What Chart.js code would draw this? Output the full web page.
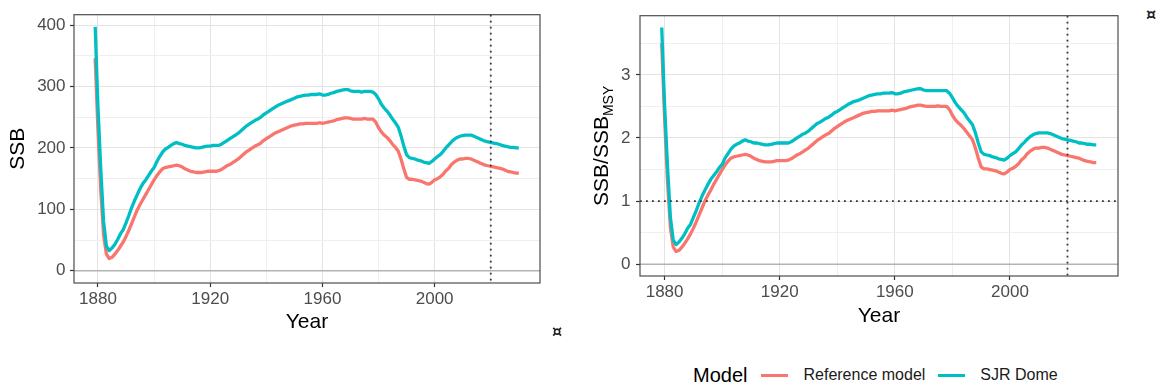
<!DOCTYPE html>
<html>
<head>
<meta charset="utf-8">
<script src="https://cdn.jsdelivr.net/npm/chart.js@4.4.1/dist/chart.umd.min.js"></script>
<style>
  body { margin: 0; background: #fff; width: 1159px; height: 387px; position: relative; overflow: hidden;
         font-family: "Liberation Sans", Arial, sans-serif; }
  canvas { position: absolute; top: 0; }
  #ssbChart { left: 0; }
  #ratioChart { left: 580px; }
  .pilcrow { position: absolute; font-family: "DejaVu Sans", sans-serif; font-size: 16px; font-weight: bold; color: #222; line-height: 18px; }
  #legend { position: absolute; left: 693px; top: 362px; height: 26px; display: flex; align-items: center; color: #000; }
  #legend .title { font-size: 20px; margin-right: 14px; }
  #legend .key { display: inline-block; width: 27px; height: 3px; margin-right: 15px; }
  #legend .label { font-size: 16px; margin-right: 13px; color: #1a1a1a; }
</style>
</head>
<body>
<canvas id="ssbChart" width="560" height="340"></canvas>
<canvas id="ratioChart" width="560" height="340"></canvas>
<div class="pilcrow" style="left:552px; top:323px;">¤</div>
<div class="pilcrow" style="left:1146px; top:6px;">¤</div>
<div id="legend"></div>
<script>
const years = Array.from({ length: 152 }, (_, i) => 1879 + i);
const seriesNames = ["Reference model", "SJR Dome"];
const seriesColors = ["#F8766D", "#00BFC4"];

// SSB, one value per year 1879-2030
const ssbRef = [346,
  228, 130, 58, 27, 20, 22, 27, 33, 40, 47,
  56, 66, 77, 88, 99, 108, 116, 124, 132, 140,
  148, 155, 161, 166, 168, 169, 170, 171, 172, 171,
  169, 166, 164, 162, 161, 160, 160, 160, 161, 162,
  162, 162, 162, 163, 165, 168, 171, 173, 176, 179,
  182, 186, 190, 194, 197, 200, 203, 205, 208, 212,
  215, 218, 221, 224, 226, 228, 230, 232, 234, 236,
  237, 238, 239, 239, 240, 240, 240, 240, 240, 241,
  240, 241, 242, 243, 244, 246, 247, 248, 249, 249,
  248, 247, 247, 247, 247, 248, 247, 247, 247, 242,
  233, 226, 221, 217, 212, 206, 201, 195, 182, 166,
  152, 149, 149, 148, 147, 146, 144, 142, 141, 144,
  148, 150, 153, 157, 163, 167, 173, 177, 180, 182,
  182, 183, 183, 182, 180, 178, 176, 174, 172, 171,
  170, 169, 168, 167, 166, 164, 162, 161, 160, 159,
  159];
const ssbSjr = [397,
  266, 165, 80, 40, 33, 37, 43, 51, 60, 67,
  78, 90, 103, 114, 124, 134, 142, 148, 155, 162,
  168, 178, 186, 193, 198, 201, 204, 207, 209, 207,
  206, 204, 203, 202, 201, 200, 200, 201, 202, 203,
  203, 204, 204, 204, 206, 209, 212, 215, 218, 221,
  224, 228, 232, 236, 239, 242, 245, 247, 250, 254,
  257, 260, 263, 266, 269, 271, 273, 275, 277, 279,
  281, 283, 284, 285, 286, 286, 287, 287, 287, 288,
  286, 286, 287, 289, 290, 292, 293, 294, 295, 295,
  293, 292, 292, 292, 291, 292, 292, 292, 291, 287,
  280, 271, 265, 260, 254, 247, 241, 234, 220, 203,
  189, 184, 183, 182, 180, 179, 177, 176, 175, 178,
  182, 186, 189, 194, 200, 205, 210, 214, 217, 219,
  220, 221, 221, 221, 219, 217, 215, 213, 211, 210,
  209, 208, 207, 206, 204, 203, 202, 201, 201, 200,
  200];

// SSB/SSBmsy, one value per year 1879-2030
const ratioRef = [3.50,
  2.31, 1.32, 0.59, 0.27, 0.20, 0.22, 0.27, 0.33, 0.40, 0.48,
  0.57, 0.67, 0.78, 0.89, 1.00, 1.09, 1.17, 1.26, 1.34, 1.42,
  1.50, 1.57, 1.63, 1.68, 1.70, 1.71, 1.72, 1.73, 1.74, 1.73,
  1.71, 1.68, 1.66, 1.64, 1.63, 1.62, 1.62, 1.62, 1.63, 1.64,
  1.64, 1.64, 1.64, 1.65, 1.67, 1.70, 1.73, 1.75, 1.78, 1.81,
  1.84, 1.88, 1.92, 1.96, 1.99, 2.02, 2.05, 2.07, 2.11, 2.15,
  2.18, 2.21, 2.24, 2.27, 2.29, 2.31, 2.33, 2.35, 2.37, 2.39,
  2.40, 2.41, 2.42, 2.42, 2.43, 2.43, 2.43, 2.43, 2.43, 2.44,
  2.43, 2.44, 2.45, 2.46, 2.47, 2.49, 2.50, 2.51, 2.52, 2.52,
  2.51, 2.50, 2.50, 2.50, 2.50, 2.51, 2.50, 2.50, 2.50, 2.45,
  2.36, 2.29, 2.24, 2.20, 2.15, 2.09, 2.03, 1.97, 1.84, 1.68,
  1.54, 1.51, 1.51, 1.50, 1.49, 1.48, 1.46, 1.44, 1.43, 1.46,
  1.50, 1.52, 1.55, 1.59, 1.65, 1.69, 1.75, 1.79, 1.82, 1.84,
  1.84, 1.85, 1.85, 1.84, 1.82, 1.80, 1.78, 1.76, 1.74, 1.73,
  1.72, 1.71, 1.70, 1.69, 1.68, 1.66, 1.64, 1.63, 1.62, 1.61,
  1.61];
const ratioSjr = [3.75,
  2.51, 1.56, 0.75, 0.38, 0.31, 0.35, 0.41, 0.48, 0.57, 0.63,
  0.74, 0.85, 0.97, 1.08, 1.17, 1.26, 1.34, 1.40, 1.46, 1.53,
  1.58, 1.68, 1.75, 1.82, 1.87, 1.90, 1.92, 1.95, 1.97, 1.95,
  1.94, 1.92, 1.92, 1.91, 1.90, 1.89, 1.89, 1.90, 1.91, 1.92,
  1.92, 1.92, 1.92, 1.92, 1.94, 1.97, 2.00, 2.03, 2.06, 2.08,
  2.11, 2.15, 2.19, 2.23, 2.25, 2.28, 2.31, 2.33, 2.36, 2.40,
  2.42, 2.45, 2.48, 2.51, 2.54, 2.56, 2.58, 2.59, 2.61, 2.63,
  2.65, 2.67, 2.68, 2.69, 2.70, 2.70, 2.71, 2.71, 2.71, 2.72,
  2.70, 2.70, 2.71, 2.73, 2.74, 2.75, 2.76, 2.77, 2.78, 2.78,
  2.76, 2.75, 2.75, 2.75, 2.75, 2.75, 2.75, 2.75, 2.75, 2.71,
  2.64, 2.56, 2.50, 2.45, 2.40, 2.33, 2.27, 2.21, 2.08, 1.92,
  1.78, 1.74, 1.73, 1.72, 1.70, 1.69, 1.67, 1.66, 1.65, 1.68,
  1.72, 1.75, 1.78, 1.83, 1.89, 1.93, 1.98, 2.02, 2.05, 2.07,
  2.08, 2.08, 2.08, 2.08, 2.07, 2.05, 2.03, 2.01, 1.99, 1.98,
  1.97, 1.96, 1.95, 1.94, 1.92, 1.92, 1.91, 1.90, 1.90, 1.89,
  1.89];

const xLabelTicks = [1880, 1920, 1960, 2000];
const xGridTicks = [1880, 1900, 1920, 1940, 1960, 1980, 2000, 2020];
const ssbGridTicks = [0, 50, 100, 150, 200, 250, 300, 350, 400];
const ratioGridTicks = [0, 0.5, 1, 1.5, 2, 2.5, 3, 3.5];
const currentYear = 2020;

const FONT = '"Liberation Sans", Arial, sans-serif';
const GRID_MAJOR = "#E3E3E3";
const GRID_MINOR = "#EFEFEF";

function toPoints(values) {
  return values.map((v, i) => ({ x: years[i], y: v }));
}

function decorPlugin(cfg) {
  return {
    id: "decor",
    beforeDatasetsDraw(chart) {
      const { ctx, chartArea: a, scales: { y } } = chart;
      const py = y.getPixelForValue(0);
      ctx.save();
      ctx.strokeStyle = "#B3B3B3";
      ctx.lineWidth = 1.5;
      ctx.beginPath();
      ctx.moveTo(a.left, py);
      ctx.lineTo(a.right, py);
      ctx.stroke();
      ctx.restore();
    },
    afterDatasetsDraw(chart) {
      const { ctx, chartArea: a, scales: { x, y } } = chart;
      ctx.save();
      ctx.strokeStyle = "#333";
      ctx.lineWidth = 1.8;
      ctx.setLineDash([1.8, 4.2]);
      const px = x.getPixelForValue(currentYear);
      ctx.beginPath();
      ctx.moveTo(px, a.top);
      ctx.lineTo(px, a.bottom);
      if (cfg.hline != null) {
        const py = y.getPixelForValue(cfg.hline);
        ctx.moveTo(a.left, py);
        ctx.lineTo(a.right, py);
      }
      ctx.stroke();
      ctx.setLineDash([]);
      ctx.strokeStyle = "#4D4D4D";
      ctx.lineWidth = 1.2;
      ctx.strokeRect(a.left, a.top, a.right - a.left, a.bottom - a.top);
      ctx.restore();
      if (cfg.yTitle) cfg.yTitle(chart);
    }
  };
}

function makePanel(id, cfg) {
  const datasets = [cfg.ref, cfg.sjr].map((vals, i) => ({
    label: seriesNames[i],
    data: toPoints(vals),
    borderColor: seriesColors[i],
    borderWidth: 3.3,
    pointRadius: 0,
    tension: 0,
    fill: false,
    borderJoinStyle: "round",
    order: 2 - i
  }));
  return new Chart(document.getElementById(id), {
    type: "line",
    data: { datasets },
    options: {
      responsive: false,
      animation: false,
      devicePixelRatio: 1,
      layout: { padding: { top: cfg.top, right: cfg.right, left: 0, bottom: 0 } },
      plugins: { legend: { display: false }, tooltip: { enabled: false } },
      scales: {
        x: {
          type: "linear",
          min: 1871.45,
          max: 2037.55,
          afterBuildTicks: (s) => { s.ticks = xGridTicks.map((v) => ({ value: v })); },
          afterFit: (s) => { s.height = cfg.xAxisH; },
          ticks: {
            autoSkip: false, maxRotation: 0, padding: 2, color: "#4D4D4D",
            font: { size: 17, family: FONT },
            callback: (v) => (xLabelTicks.includes(v) ? String(v) : "")
          },
          grid: {
            color: (c) => (c.tick && xLabelTicks.includes(c.tick.value) ? GRID_MAJOR : GRID_MINOR),
            lineWidth: 1,
            tickLength: 4,
            tickWidth: 1.2,
            tickColor: (c) => (c.tick && xLabelTicks.includes(c.tick.value) ? "#333" : "rgba(0,0,0,0)")
          },
          border: { display: false },
          title: {
            display: true, text: "Year", color: "#000",
            font: { size: 21, family: FONT },
            padding: { top: 0, bottom: cfg.xTitlePad }
          }
        },
        y: {
          type: "linear",
          min: cfg.yMin,
          max: cfg.yMax,
          afterBuildTicks: (s) => { s.ticks = cfg.yGrid.map((v) => ({ value: v })); },
          afterFit: (s) => { s.width = cfg.yAxisW; },
          ticks: {
            autoSkip: false, padding: cfg.yTickPad, color: "#4D4D4D",
            font: { size: 17, family: FONT },
            callback: (v) => (cfg.isMajorY(v) ? String(v) : "")
          },
          grid: {
            color: (c) => (c.tick && cfg.isMajorY(c.tick.value) ? GRID_MAJOR : GRID_MINOR),
            lineWidth: 1,
            tickLength: 4,
            tickWidth: 1.2,
            tickColor: (c) => (c.tick && cfg.isMajorY(c.tick.value) ? "#333" : "rgba(0,0,0,0)")
          },
          border: { display: false },
          title: {
            display: !!cfg.yTitleText, text: cfg.yTitleText || "", color: "#000",
            font: { size: 21, family: FONT },
            padding: { top: 6, bottom: 0 }
          }
        }
      }
    },
    plugins: [decorPlugin(cfg)]
  });
}

makePanel("ssbChart", {
  ref: ssbRef, sjr: ssbSjr,
  top: 10, right: 20, yAxisW: 74, xAxisH: 57, xTitlePad: 5, yTickPad: 4.5,
  yMin: -19.85, yMax: 416.85, yGrid: ssbGridTicks,
  isMajorY: (v) => v % 100 === 0,
  yTitleText: "SSB"
});

makePanel("ratioChart", {
  ref: ratioRef, sjr: ratioSjr,
  top: 11, right: 22, yAxisW: 60, xAxisH: 64, xTitlePad: 11, yTickPad: 5.5,
  yMin: -0.1875, yMax: 3.9375, yGrid: ratioGridTicks,
  isMajorY: (v) => Number.isInteger(v),
  hline: 1,
  yTitle(chart) {
    const { ctx, chartArea: a } = chart;
    const cy = (a.top + a.bottom) / 2;
    ctx.save();
    ctx.fillStyle = "#000";
    ctx.translate(0, cy);
    ctx.rotate(-Math.PI / 2);
    ctx.font = "21px " + FONT;
    const main = "SSB/SSB";
    const w1 = ctx.measureText(main).width;
    ctx.font = "14px " + FONT;
    const w2 = ctx.measureText("MSY").width;
    const start = -(w1 + w2) / 2;
    ctx.textBaseline = "alphabetic";
    ctx.font = "21px " + FONT;
    ctx.fillText(main, start, 28);
    ctx.font = "14px " + FONT;
    ctx.fillText("MSY", start + w1, 33);
    ctx.restore();
  }
});

const legend = document.getElementById("legend");
legend.innerHTML = '<span class="title">Model</span>' + seriesNames.map((n, i) =>
  `<span class="key" style="background:${seriesColors[i]}"></span><span class="label">${n}</span>`
).join("");
</script>
</body>
</html>
